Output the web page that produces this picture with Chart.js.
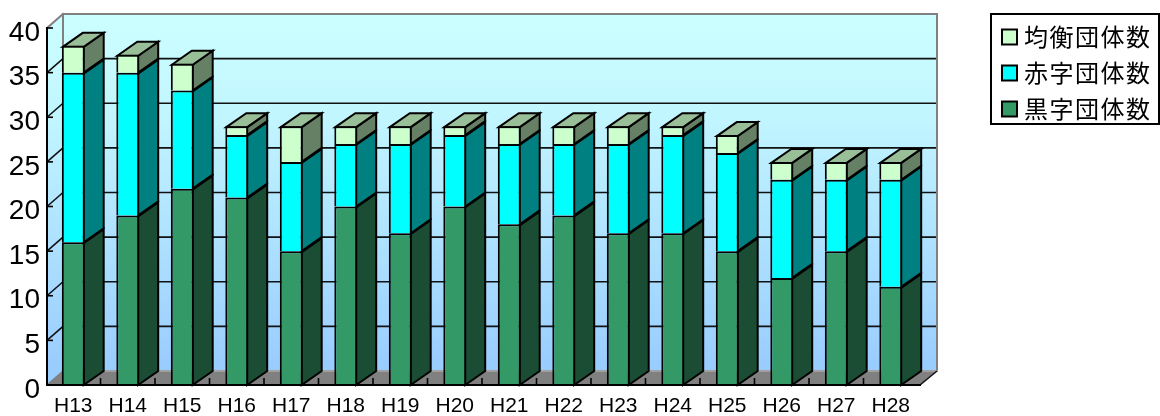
<!DOCTYPE html>
<html lang="ja">
<head>
<meta charset="utf-8">
<title>団体数の推移</title>
<style>
html,body{margin:0;padding:0;background:#fff;}
canvas{display:block;}
</style>
<script src="https://cdn.jsdelivr.net/npm/chart.js@4"></script>
</head>
<body>
<canvas id="chart" width="1160" height="416"></canvas>
<script>
// 年度ごとの団体数
const years = ['H13','H14','H15','H16','H17','H18','H19','H20','H21','H22','H23','H24','H25','H26','H27','H28'];
const surplusCounts  = [16,19,22,21,15,20,17,20,18,19,17,17,15,12,15,11];
const deficitCounts  = [19,16,11, 7,10, 7,10, 8, 9, 8,10,11,11,11, 8,12];
const balancedCounts = [ 3, 2, 3, 1, 4, 2, 2, 1, 2, 2, 2, 1, 2, 2, 2, 2];
const yTicksMax = 40;
const yTickStep = 5;

// 奥行き表現の寸法（px）
const BAR_DX = 20, BAR_DY = 14;
const WALL_DX = 17, WALL_DY = 14;
const WALL_RIGHT = 920;

const FONT_LATIN = '"Liberation Sans", Arial, sans-serif';
const FONT_CJK = '"Noto Sans CJK JP", "Noto Sans", sans-serif';

function poly(ctx, pts, fill, stroke, lw) {
  ctx.beginPath();
  pts.forEach((p, i) => i ? ctx.lineTo(p[0], p[1]) : ctx.moveTo(p[0], p[1]));
  ctx.closePath();
  if (fill) { ctx.fillStyle = fill; ctx.fill(); }
  if (stroke) { ctx.strokeStyle = stroke; ctx.lineWidth = lw; ctx.lineJoin = 'miter'; ctx.stroke(); }
}
function seg(ctx, x1, y1, x2, y2, color, lw) {
  ctx.beginPath(); ctx.moveTo(x1, y1); ctx.lineTo(x2, y2);
  ctx.strokeStyle = color; ctx.lineWidth = lw; ctx.stroke();
}

// 背景の壁・床・目盛線と、棒の側面・上面を描く
const box3d = {
  id: 'box3d',
  beforeDatasetsDraw(chart) {
    const { ctx, scales: { x, y } } = chart;
    const L = x.left + 1, R = WALL_RIGHT, B = y.bottom, T = y.top;
    const dx = WALL_DX - 1, dy = WALL_DY;
    ctx.save();

    const grad = ctx.createLinearGradient(0, T - dy, 0, B - dy);
    grad.addColorStop(0, '#CCFFFF');
    grad.addColorStop(0.28, '#C2F6FF');
    grad.addColorStop(1, '#99CCFF');
    poly(ctx, [[L, T], [L + dx, T - dy], [R + WALL_DX, T - dy], [R + WALL_DX, B - dy], [L + dx, B - dy], [L, B]], grad);

    // 床
    poly(ctx, [[L, B], [L + dx, B - dy], [R + WALL_DX, B - dy], [R, B]], '#808080');

    // 目盛線（奥の面と左の面）
    y.ticks.forEach(t => {
      if (t.value === 0 || t.value === yTicksMax) return;
      const py = y.getPixelForValue(t.value);
      seg(ctx, L + dx, py - dy, R + WALL_DX, py - dy, '#111', 1.6);
      seg(ctx, L, py, L + dx, py - dy, '#111', 1.6);
    });

    // 壁の外枠
    ctx.lineCap = 'square';
    seg(ctx, L, T, L + dx, T - dy, '#808080', 2);
    seg(ctx, L + dx, T - dy, R + WALL_DX, T - dy, '#808080', 2);
    seg(ctx, R + WALL_DX, T - dy, R + WALL_DX, B - dy, '#808080', 2);
    seg(ctx, L + dx, T - dy, L + dx, B - dy, '#808080', 2);
    seg(ctx, L + dx, B - dy, R + WALL_DX, B - dy, '#A0A0A0', 2);
    ctx.lineCap = 'butt';
    seg(ctx, L, B, L + dx, B - dy, '#808080', 1.5);
    seg(ctx, R, B, R + WALL_DX, B - dy, '#111', 1.6);

    // 床の上の区切り目盛
    for (let i = 1; i < years.length; i++) {
      const px = x.left + (x.width / years.length) * i;
      seg(ctx, px, B, px, B - 7, '#000', 1.6);
    }

    // 棒の側面と上面
    const n = chart.data.datasets.length;
    chart.data.datasets.forEach((ds, di) => {
      chart.getDatasetMeta(di).data.forEach(el => {
        const right = el.x + el.width / 2 - 1, left = el.x - el.width / 2 + 1;
        const top = el.y + 1, bottom = el.base;
        poly(ctx, [[right, bottom], [right + BAR_DX, bottom - BAR_DY], [right + BAR_DX, top - BAR_DY], [right, top]],
             ds.sideColor, '#000', 2);
        if (di === n - 1) {
          poly(ctx, [[left, top], [left + BAR_DX, top - BAR_DY], [right + BAR_DX, top - BAR_DY], [right, top]],
               ds.topColor, '#000', 2);
        }
      });
    });
    ctx.restore();
  },
  afterDatasetsDraw(chart) {
    const { ctx, scales: { x, y } } = chart;
    const L = x.left + 1, B = y.bottom;
    ctx.save();
    seg(ctx, L, y.top - 1, L, B + 1, '#000', 2);
    seg(ctx, L - 1, B, WALL_RIGHT + 1, B, '#000', 2);
    y.ticks.forEach(t => {
      if (t.value === 0) return;
      const py = y.getPixelForValue(t.value);
      seg(ctx, L - 1, py, L + 6, py, '#000', 1.6);
    });
    ctx.restore();
  },
  afterDraw(chart) {
    // 凡例（上から均衡・赤字・黒字）
    const { ctx } = chart;
    ctx.save();
    ctx.strokeStyle = '#000';
    ctx.lineWidth = 2;
    ctx.strokeRect(991, 14, 168, 110);
    const rows = [37, 73, 109];
    const order = chart.data.datasets.slice().reverse();
    ctx.font = '24px ' + FONT_CJK;
    ctx.textBaseline = 'middle';
    ctx.textAlign = 'left';
    if ('letterSpacing' in ctx) ctx.letterSpacing = '1.5px';
    order.forEach((ds, i) => {
      ctx.fillStyle = ds.backgroundColor;
      ctx.fillRect(1002, rows[i] - 7.5, 15, 15);
      ctx.strokeStyle = '#000';
      ctx.lineWidth = 2;
      ctx.strokeRect(1002, rows[i] - 7.5, 15, 15);
      ctx.fillStyle = '#000';
      ctx.fillText(ds.label, 1024, rows[i]);
    });
    ctx.restore();
  }
};

const common = { borderColor: '#000', borderWidth: 2, borderSkipped: 'start', barPercentage: 0.42, categoryPercentage: 1 };

new Chart(document.getElementById('chart'), {
  type: 'bar',
  data: {
    labels: years,
    datasets: [
      { label: '黒字団体数', data: surplusCounts,  backgroundColor: '#339966', sideColor: '#1A4D33', topColor: '#267350', ...common },
      { label: '赤字団体数', data: deficitCounts,  backgroundColor: '#00FFFF', sideColor: '#008080', topColor: '#00BFBF', ...common },
      { label: '均衡団体数', data: balancedCounts, backgroundColor: '#CCFFCC', sideColor: '#668066', topColor: '#99BF99', ...common }
    ]
  },
  options: {
    responsive: false,
    animation: false,
    layout: { padding: { left: 0, top: 28, right: 242, bottom: 0 } },
    plugins: { legend: { display: false }, tooltip: { enabled: false } },
    scales: {
      x: {
        stacked: true,
        grid: { display: false, drawTicks: false },
        border: { display: false },
        ticks: { color: '#000', font: { family: FONT_LATIN, size: 21 }, padding: 9, autoSkip: false, maxRotation: 0, minRotation: 0 },
        afterFit(s) { s.height = 31; }
      },
      y: {
        stacked: true,
        min: 0,
        max: yTicksMax,
        grid: { display: false, drawTicks: false },
        border: { display: false },
        ticks: { stepSize: yTickStep, color: '#000', font: { family: FONT_LATIN, size: 28 }, padding: 6, labelOffset: 5 },
        afterFit(s) { s.width = 46; }
      }
    }
  },
  plugins: [box3d]
});
</script>
</body>
</html>
